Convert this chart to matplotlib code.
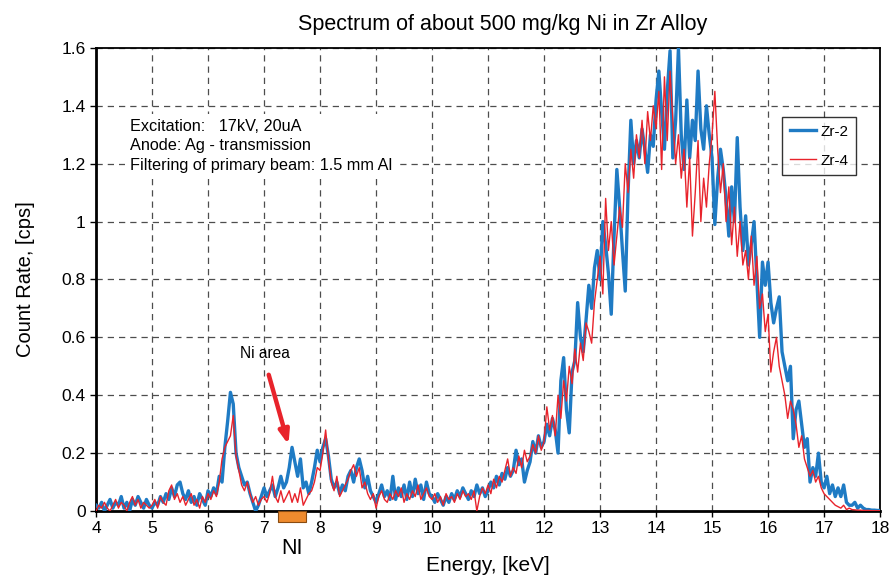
import numpy as np
import matplotlib.pyplot as plt
from matplotlib.patches import Rectangle

plt.rcParams['font.family'] = ['Liberation Sans', 'DejaVu Sans']

# energy axis, 0.05 keV channels from 4 to 18 keV
e_start, e_step = 4.0, 0.05

# Zr-2 count rate [cps], one row per keV
zr2 = [
    0.02, 0.01, 0.03, 0.00, 0.02, 0.04, 0.01, 0.03, 0.02, 0.05, 0.01, 0.03, 0.00, 0.04, 0.02, 0.05, 0.03, 0.01, 0.04, 0.02,
    0.01, 0.03, 0.02, 0.05, 0.03, 0.06, 0.04, 0.08, 0.05, 0.09, 0.10, 0.06, 0.04, 0.07, 0.03, 0.05, 0.02, 0.06, 0.04, 0.02,
    0.07, 0.05, 0.08, 0.06, 0.12, 0.10, 0.22, 0.31, 0.41, 0.37, 0.20, 0.15, 0.12, 0.09, 0.10, 0.06, 0.03, 0.00, 0.02, 0.05,
    0.08, 0.05, 0.07, 0.09, 0.05, 0.08, 0.12, 0.08, 0.10, 0.15, 0.22, 0.17, 0.12, 0.18, 0.08, 0.10, 0.06, 0.10, 0.15, 0.21,
    0.17, 0.22, 0.25, 0.19, 0.11, 0.08, 0.10, 0.06, 0.09, 0.07, 0.12, 0.14, 0.10, 0.15, 0.18, 0.14, 0.08, 0.12, 0.07, 0.05,
    0.03, 0.06, 0.09, 0.05, 0.07, 0.04, 0.12, 0.04, 0.08, 0.05, 0.09, 0.04, 0.10, 0.05, 0.11, 0.06, 0.09, 0.04, 0.10, 0.06,
    0.05, 0.03, 0.06, 0.04, 0.02, 0.05, 0.03, 0.06, 0.04, 0.07, 0.05, 0.08, 0.06, 0.04, 0.07, 0.05, 0.09, 0.06, 0.08, 0.05,
    0.07, 0.10, 0.08, 0.12, 0.09, 0.13, 0.11, 0.15, 0.12, 0.14, 0.21, 0.16, 0.18, 0.10, 0.14, 0.17, 0.24, 0.20, 0.26, 0.22,
    0.24, 0.30, 0.26, 0.32, 0.28, 0.20, 0.45, 0.53, 0.35, 0.27, 0.48, 0.52, 0.72, 0.60, 0.55, 0.66, 0.78, 0.70, 0.84, 0.90,
    0.80, 1.00, 0.92, 0.82, 0.68, 0.95, 1.18, 1.05, 0.90, 0.76, 1.10, 1.35, 1.20, 1.28, 1.22, 1.32, 1.25, 1.17, 1.30, 1.26,
    1.42, 1.52, 1.38, 1.25, 1.45, 1.59, 1.22, 1.35, 1.60, 1.30, 1.18, 1.42, 1.22, 1.35, 1.28, 1.52, 1.32, 1.25, 1.40, 1.30,
    1.22, 0.99, 1.15, 1.25, 1.18, 1.08, 0.95, 1.12, 1.00, 1.29, 1.05, 0.90, 1.02, 0.85, 0.92, 1.00, 0.80, 0.60, 0.86, 0.78,
    0.86, 0.72, 0.65, 0.70, 0.74, 0.55, 0.50, 0.45, 0.50, 0.25, 0.35, 0.38, 0.30, 0.22, 0.25, 0.10, 0.15, 0.12, 0.20, 0.10,
    0.08, 0.12, 0.06, 0.09, 0.05, 0.08, 0.05, 0.09, 0.03, 0.02, 0.02, 0.03, 0.01, 0.02, 0.01, 0.005, 0.005, 0.003, 0.003, 0.002,
    0.002,
]

# Zr-4 count rate [cps]
zr4 = [
    0.00, 0.02, 0.01, 0.03, 0.01, 0.00, 0.02, 0.04, 0.01, 0.03, 0.02, 0.00, 0.03, 0.05, 0.02, 0.04, 0.01, 0.03, 0.02, 0.01,
    0.02, 0.04, 0.01, 0.05, 0.03, 0.02, 0.07, 0.09, 0.04, 0.06, 0.03, 0.05, 0.02, 0.04, 0.06, 0.02, 0.04, 0.01, 0.05, 0.03,
    0.06, 0.04, 0.07, 0.05, 0.10, 0.18, 0.22, 0.24, 0.26, 0.33, 0.19, 0.14, 0.09, 0.07, 0.10, 0.06, 0.03, 0.05, 0.02, 0.04,
    0.05, 0.03, 0.06, 0.12, 0.05, 0.03, 0.07, 0.03, 0.05, 0.07, 0.03, 0.06, 0.03, 0.08, 0.02, 0.04, 0.06, 0.07, 0.10, 0.15,
    0.14, 0.20, 0.28, 0.18, 0.10, 0.07, 0.12, 0.05, 0.07, 0.09, 0.11, 0.14, 0.16, 0.12, 0.15, 0.08, 0.10, 0.06, 0.04, 0.06,
    0.01, 0.05, 0.07, 0.04, 0.03, 0.06, 0.04, 0.07, 0.05, 0.08, 0.03, 0.06, 0.04, 0.07, 0.05, 0.09, 0.04, 0.06, 0.08, 0.05,
    0.04, 0.06, 0.03, 0.05, 0.02, 0.06, 0.04, 0.05, 0.03, 0.06, 0.04, 0.07, 0.05, 0.06, 0.04, 0.07, 0.00, 0.05, 0.08, 0.06,
    0.09, 0.06, 0.11, 0.08, 0.12, 0.10, 0.14, 0.18, 0.12, 0.15, 0.13, 0.19, 0.15, 0.21, 0.17, 0.19, 0.23, 0.20, 0.26, 0.21,
    0.24, 0.36, 0.28, 0.33, 0.26, 0.40, 0.32, 0.45, 0.38, 0.50, 0.44, 0.56, 0.48, 0.58, 0.52, 0.65, 0.62, 0.58, 0.72, 0.80,
    0.88, 0.75, 1.08, 0.90, 1.00, 0.85, 0.95, 1.05, 0.98, 1.20, 1.10, 1.25, 1.15, 1.30, 1.22, 1.35, 1.20, 1.38, 1.28, 1.40,
    1.32, 1.45, 1.18, 1.50, 1.28, 1.52, 1.35, 1.20, 1.30, 1.15, 1.25, 1.05, 1.22, 0.95, 1.10, 1.28, 1.00, 1.15, 1.05, 1.20,
    1.30, 1.45, 1.25, 1.10, 1.20, 1.00, 1.12, 0.92, 1.05, 0.88, 1.00, 0.85, 0.90, 0.80, 0.95, 0.78, 0.88, 0.70, 0.75, 0.62,
    0.68, 0.48, 0.55, 0.60, 0.50, 0.45, 0.40, 0.32, 0.38, 0.35, 0.30, 0.22, 0.26, 0.18, 0.15, 0.12, 0.14, 0.10, 0.12, 0.08,
    0.06, 0.05, 0.04, 0.03, 0.02, 0.015, 0.01, 0.02, 0.005, 0.01, 0.005, 0.004, 0.003, 0.003, 0.002, 0.002, 0.002, 0.001, 0.001, 0.001,
    0.001,
]

x_ticks = list(range(4, 19))
y_ticks = [0, 0.2, 0.4, 0.6, 0.8, 1.0, 1.2, 1.4, 1.6]
y_labels = ['0', '0.2', '0.4', '0.6', '0.8', '1', '1.2', '1.4', '1.6']

info_lines = ["Excitation:   17kV, 20uA",
              "Anode: Ag - transmission",
              "Filtering of primary beam: 1.5 mm Al"]

ni_band = (7.25, 7.75)   # Ni line region, keV

energy = e_start + e_step * np.arange(len(zr2))

fig = plt.figure(figsize=(8.95, 5.76), dpi=100)
ax = fig.add_axes([0.1073, 0.1128, 0.876, 0.804])

ax.plot(energy, zr2, color='#1f7bc4', lw=2.4, label='Zr-2', zorder=3)
ax.plot(energy, zr4, color='#e8232b', lw=1.0, label='Zr-4', zorder=4)

ax.set_xlim(4, 18)
ax.set_ylim(0, 1.6)
ax.set_xticks(x_ticks)
ax.set_yticks(y_ticks)
ax.set_yticklabels(y_labels)
ax.tick_params(labelsize=12.5, length=4, width=1, direction='out')

ax.grid(True, color='0.3', linestyle=(0, (5, 4)), linewidth=0.9)
ax.set_axisbelow(True)
for side in ['left', 'bottom']:
    ax.spines[side].set_linewidth(2)
for side in ['top', 'right']:
    ax.spines[side].set_linewidth(1.3)

ax.set_title("Spectrum of about 500 mg/kg Ni in Zr Alloy", fontsize=15.5, pad=13, x=0.518)
ax.set_xlabel("Energy, [keV]", fontsize=15, labelpad=14)
ax.set_ylabel("Count Rate, [cps]", fontsize=14.5, labelpad=19)

ax.text(4.6, 1.262, "\n".join(info_lines), fontsize=11.7, va='center', ha='left',
        linespacing=1.36, zorder=5,
        bbox=dict(boxstyle='square,pad=0.3', fc='white', ec='none'))

leg = ax.legend(loc='upper right', bbox_to_anchor=(0.969, 0.851), borderaxespad=0,
                fontsize=11, frameon=True, fancybox=False, edgecolor='black',
                handlelength=1.7, handletextpad=0.3, borderpad=0.5,
                labelspacing=1.0)
leg.get_frame().set_linewidth(1.0)

# Ni area marker
ax.annotate("", xy=(7.45, 0.22), xytext=(7.07, 0.48),
            arrowprops=dict(arrowstyle='-|>,head_width=0.3,head_length=0.8',
                            color='#e8232b', lw=3.2), zorder=6)
ax.text(7.02, 0.545, "Ni area", fontsize=11.2, ha='center', va='center')

ax.add_patch(Rectangle((ni_band[0], -0.038), ni_band[1] - ni_band[0], 0.038,
                       facecolor='#ef8b2e', edgecolor='#8a4b10', lw=0.8,
                       clip_on=False, zorder=6))
ax.text(sum(ni_band) / 2, -0.13, "NI", fontsize=15.5, ha='center', va='center')

fig.savefig('out.png', dpi=100)
